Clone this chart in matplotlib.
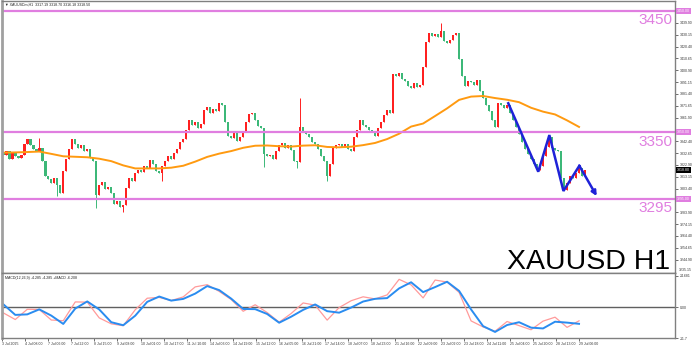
"""
XAUUSD H1 candles with MA, support/resistance levels and MACD panel
"""

import numpy as np
import matplotlib.pyplot as plt
from matplotlib.transforms import blended_transform_factory

# candle closes (one candle per ~2 hourly bars)
closes = [
    3331, 3334, 3328, 3333, 3330, 3329, 3331, 3340, 3344, 3339,
    3336, 3334, 3337, 3326, 3314, 3311, 3308, 3312, 3306, 3300,
    3318, 3328, 3336, 3344, 3340, 3337, 3339, 3334, 3336, 3329,
    3326, 3298, 3306, 3309, 3303, 3305, 3300, 3291, 3293, 3288,
    3290, 3304, 3312, 3310, 3316, 3319, 3317, 3322, 3320, 3327,
    3324, 3318, 3316, 3322, 3326, 3330, 3328, 3333, 3336, 3342,
    3344, 3352, 3360, 3356, 3358, 3353, 3357, 3368, 3371, 3366,
    3369, 3367, 3374, 3372, 3358, 3347, 3345, 3349, 3343, 3346,
    3350, 3358, 3365, 3366, 3360, 3355, 3353, 3332, 3330, 3331,
    3328, 3334, 3339, 3341, 3337, 3339, 3335, 3326, 3325, 3354,
    3350, 3348, 3346, 3342, 3340, 3336, 3330, 3326, 3314, 3324,
    3337, 3339, 3340, 3338, 3340, 3336, 3334, 3346, 3352, 3360,
    3356, 3354, 3352, 3350, 3347, 3353, 3358, 3364, 3368, 3366,
    3398, 3396, 3399, 3394, 3392, 3388, 3386, 3390, 3387, 3389,
    3404, 3424, 3432, 3429, 3431, 3428, 3433, 3425, 3423, 3426,
    3430, 3432, 3410, 3396, 3388, 3392, 3391, 3389, 3393, 3384,
    3378, 3372, 3367, 3360, 3354, 3374, 3372, 3370, 3372, 3366,
    3360, 3354, 3348, 3342, 3336, 3332, 3328, 3324, 3319, 3322,
    3330, 3338, 3346, 3337, 3335, 3334, 3312, 3302, 3308, 3314,
    3312, 3316, 3320, 3314, 3318.8,
]
first_open = 3333

# long wicks that stand out
wick_hi = {12: 3345, 99: 3378, 146: 3440}
wick_lo = {18: 3297, 31: 3287, 40: 3284, 53: 3310, 87: 3321, 98: 3320, 108: 3310}

# moving average, sampled every 4 candles
ma_vals = [
    3333, 3333.2, 3333.5, 3333.9, 3332, 3330, 3329.6, 3329.2, 3328, 3326,
    3322.5, 3320, 3320, 3320, 3320.6, 3322.2, 3325.6, 3329.5, 3332.2, 3334.3,
    3337, 3338.7, 3338.9, 3338.3, 3338, 3338.8, 3339.1, 3337.7, 3337.4, 3337.9,
    3339.2, 3341, 3344.2, 3348.6, 3354.5, 3357, 3363.2, 3369.5, 3376.5, 3379.2,
    3379.7, 3378, 3376.6, 3374.6, 3370, 3366.8, 3364.5, 3359.6, 3354.2,
]

# MACD panel lines, sampled every 4 candles
macd_blue = [
    1.23, -2.85, -2.65, -0.73, -3.12, -6.31, -0.42, 2.31, -0.77, -5.65,
    -6.81, -3.15, 2.15, 4.19, 2.62, 3.27, 5.31, 8.19, 6.65, 3.38,
    -0.58, -0.65, -2.5, -5.85, -3.54, -0.92, 1.15, -1.42, -2.0, -0.04,
    2.27, 3.31, 3.58, 7.31, 9.65, 5.88, 7.81, 9.85, 6.35, -0.77,
    -7.15, -9.38, -6.73, -5.65, -7.73, -8.04, -5.46, -5.81, -6.27,
]
macd_red = [
    -2.08, -4.62, -0.69, -0.77, -4.81, -5.08, 2.12, 2.04, -4.0, -6.27,
    -7.0, -0.88, 3.54, 3.85, 2.65, 4.04, 7.88, 8.73, 6.15, 3.04,
    -1.46, 1.04, -1.96, -5.65, -2.31, 1.73, 0.88, -4.85, -0.04, 2.58,
    4.08, 3.27, 4.81, 10.77, 8.65, 3.65, 10.5, 9.73, 5.77, -5.15,
    -7.46, -9.12, -5.38, -6.96, -8.54, -5.23, -3.73, -7.62, -5.12,
]

# hand-drawn zigzag (candle index, price)
zig_x = [168.4, 178.4, 182.1, 186.8, 192.1, 197.9]
zig_y = [3373.7, 3317.3, 3347.5, 3301.4, 3322.2, 3297.2]

levels = [3450, 3350, 3295]
level_names = ["3450", "3350", "3295"]

price_ticks = [3244.90, 3254.65, 3264.40, 3274.15, 3283.90, 3303.40, 3313.15,
               3322.90, 3332.65, 3342.40, 3361.90, 3371.65, 3381.40, 3391.15,
               3400.90, 3410.65, 3420.40, 3430.15, 3439.90]

date_labels = ["3 Jul 2025", "4 Jul 08:00", "7 Jul 06:00", "7 Jul 22:00", "8 Jul 15:00",
               "9 Jul 08:00", "10 Jul 01:00", "10 Jul 17:00", "11 Jul 10:00",
               "14 Jul 03:00", "14 Jul 19:00", "15 Jul 12:00", "16 Jul 05:00",
               "16 Jul 21:00", "17 Jul 14:00", "18 Jul 07:00", "18 Jul 23:00",
               "21 Jul 16:00", "22 Jul 09:00", "23 Jul 02:00", "23 Jul 18:00",
               "24 Jul 11:00", "25 Jul 04:00", "25 Jul 20:00", "28 Jul 13:00",
               "29 Jul 06:00"]

UP = "#ff2020"
DOWN = "#3cb878"
PINK = "#e07ee0"
GRID = "#808080"
SMALL = 2.5
FONT = "Liberation Sans"

W, H = 692, 347
fig = plt.figure(figsize=(W / 100, H / 100), dpi=100)
ax = fig.add_axes([2 / W, 1 - 273 / H, 673 / W, 272 / H])
ax2 = fig.add_axes([2 / W, 1 - 338 / H, 673 / W, 65 / H], sharex=ax)

# candles
c = np.array(closes, dtype=float)
o = np.r_[first_open, c[:-1]]
idx = np.arange(len(c))
hi = np.maximum(o, c)
lo = np.minimum(o, c)
for k, v in wick_hi.items():
    hi[k] = v
for k, v in wick_lo.items():
    lo[k] = v
cols = np.where(c >= o, UP, DOWN)
ax.vlines(idx, lo, hi, colors=cols, lw=0.7)
body = np.maximum(np.abs(c - o), 0.5)
ax.bar(idx, body, bottom=np.minimum(o, c), width=0.82, color=cols, lw=0)

ma_x = np.arange(len(ma_vals)) * 4
ax.plot(ma_x, ma_vals, color="#ff9a10", lw=1.4)

for lvl, name in zip(levels, level_names):
    ax.axhline(lvl, color=PINK, lw=1.6)
    ax.text(0.9955, lvl - 2.2, name, transform=blended_transform_factory(ax.transAxes, ax.transData),
            ha="right", va="top", fontsize=11, color=PINK, family=FONT)

ax.plot(zig_x[:-1], zig_y[:-1], color="#1f22d8", lw=1.8, solid_joinstyle="miter")
ax.annotate("", xy=(zig_x[-1], zig_y[-1]), xytext=(zig_x[-2], zig_y[-2]),
            arrowprops=dict(arrowstyle="-|>", color="#1f22d8", lw=1.8,
                            mutation_scale=7, shrinkA=0, shrinkB=0))

ax.text(0.9925, 0.016, "XAUUSD H1", transform=ax.transAxes, ha="right", va="baseline",
        fontsize=20.5, color="black", family=FONT)
ax.text(0.004, 0.994, "\u25bc XAUUSDm,H1  3317.19 3318.70 3316.18 3318.50",
        transform=ax.transAxes, ha="left", va="top", fontsize=2.6, color="#222222",
        family=[FONT, "DejaVu Sans"])

ax.set_ylim(3233.8, 3458)
ax.set_xlim(-1 / 3, 224)
ax.yaxis.tick_right()
ax.set_yticks(price_ticks)
ax.set_yticklabels(["%.2f" % t for t in price_ticks], family=FONT)
ax.tick_params(axis="y", labelsize=SMALL, length=2, width=0.5, pad=1.5, colors="#333333")
ax.tick_params(axis="x", bottom=False, labelbottom=False)

# right-axis boxes
tr = blended_transform_factory(ax.transAxes, ax.transData)
for lvl in levels:
    ax.text(1.003, lvl, "%.2f" % lvl, transform=tr, ha="left", va="center", fontsize=SMALL,
            color="white", family=FONT,
            bbox=dict(boxstyle="square,pad=0.25", fc=PINK, ec="none"))
ax.text(1.003, c[-1], "%.2f" % c[-1], transform=tr, ha="left", va="center", fontsize=SMALL,
        color="white", family=FONT,
        bbox=dict(boxstyle="square,pad=0.25", fc="black", ec="none"))
ax.text(1.006, 3236.0, "3235.15", transform=tr, ha="left", va="center", fontsize=SMALL,
        color="#333333", family=FONT)

# MACD panel
m_x = np.arange(len(macd_blue)) * 4
ax2.axhline(0, color="#606060", lw=1.0)
ax2.plot(m_x, macd_red, color="#ff9a9a", lw=0.9)
ax2.plot(m_x, macd_blue, color="#2a8cf0", lw=1.4)
ax2.set_ylim(-11.7, 13.2)
ax2.yaxis.tick_right()
ax2.set_yticks([12.2, 0, -11.7])
ax2.set_yticklabels(["24.681", "0.00", "-11.7"], family=FONT)
ax2.tick_params(axis="y", labelsize=SMALL, length=2, width=0.5, pad=1.5, colors="#333333")
ax2.text(0.004, 0.96, "MACD(12,26,9) -4.285 -4.285 +MACD -6.208", transform=ax2.transAxes,
         ha="left", va="top", fontsize=2.6, color="#222222", family=FONT)

date_pos = np.arange(len(date_labels)) * 7.7 - 0.43
ax2.set_xticks(date_pos)
ax2.set_xticklabels(date_labels, family=FONT)
ax2.tick_params(axis="x", labelsize=SMALL, length=2, width=0.5, pad=1, colors="#333333")
for lab in ax2.get_xticklabels():
    lab.set_ha("left")

for a in (ax, ax2):
    for s in ("top", "right", "bottom"):
        a.spines[s].set_color(GRID)
        a.spines[s].set_linewidth(1.0)
    a.spines["left"].set_color("#a0a0a0")
    a.spines["left"].set_linewidth(2.0)
ax.spines["bottom"].set_color("#606060")

fig.savefig("out.png", dpi=100)
